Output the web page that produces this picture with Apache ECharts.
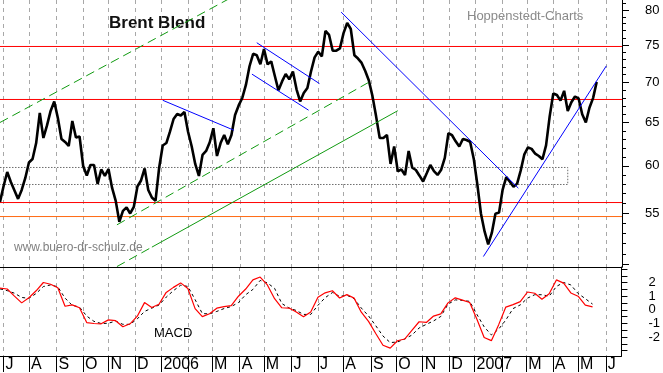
<!DOCTYPE html>
<html><head><meta charset="utf-8">
<script src="https://cdn.jsdelivr.net/npm/echarts@6/dist/echarts.min.js"></script>
<style>html,body{margin:0;padding:0;background:#fff}#c{width:663px;height:373px}</style>
</head><body><div id="c"></div>
<script>
// ---- data ----
const firstDay = '2005-06-28';
const lastDay = '2007-06-20';
// Brent close, one value every 3rd trading day starting at firstDay
const closeStep = 3;
const closes = [
56.13,57.81,59.32,58.24,57.34,56.45,57.39,58.67,60.37,60.76,
62.58,66.15,63.17,64.65,66.40,67.57,65.54,63.05,62.70,62.24,
65.18,63.23,63.34,59.98,58.94,60.09,60.09,58.03,59.60,58.89,
59.65,57.60,56.24,54.12,55.21,55.57,54.95,55.62,57.76,58.40,
59.71,57.39,56.59,56.24,59.76,62.30,62.58,63.91,65.42,66.03,
65.84,66.28,63.90,62.21,60.18,58.89,61.22,61.67,62.67,64.31,
61.10,62.58,63.52,62.44,63.52,65.91,67.08,68.01,69.66,72.11,
73.79,73.59,72.37,74.45,72.36,72.76,70.82,68.97,70.12,71.09,
70.38,71.40,69.11,67.57,68.64,69.28,71.41,73.30,74.06,73.43,
76.96,76.40,74.21,74.21,74.53,76.66,78.11,77.24,73.59,73.14,
72.55,71.48,70.24,68.24,65.74,63.17,63.17,63.52,60.21,62.18,
59.39,59.60,59.00,61.67,59.79,59.54,58.92,58.29,59.18,60.09,
59.41,59.00,59.58,60.89,63.72,63.49,62.78,62.18,63.05,62.93,
62.73,60.80,57.97,54.92,53.16,51.90,53.01,54.93,55.04,57.43,
58.76,58.26,57.72,58.06,59.50,61.29,62.07,61.91,61.36,61.10,
60.73,62.31,65.74,68.58,68.39,67.67,68.91,66.40,67.47,68.19,
67.95,65.99,65.00,66.79,67.99,70.04
];
// MACD and signal, one value every 6th trading day starting at firstDay
const macdStep = 6;
const macd = [
1.59,1.53,1.01,0.51,0.89,1.40,2.01,1.88,1.62,0.26,
0.36,0.15,-0.94,-1.01,-1.03,-0.74,-0.80,-1.25,-1.03,-0.47,
0.53,0.17,0.41,1.28,1.65,1.98,1.57,0.09,-0.50,-0.29,
0.12,0.24,0.31,1.00,1.53,2.20,2.41,1.83,0.82,0.15,
0.13,-0.16,-0.51,-0.16,0.93,1.25,1.40,0.87,1.12,0.86,
-0.18,-0.85,-1.74,-2.61,-2.82,-2.28,-2.15,-1.51,-0.88,-0.93,
-0.46,-0.30,0.51,0.88,0.71,0.54,-0.70,-2.04,-2.27,-1.11,
0.20,0.38,0.60,1.31,1.22,0.78,1.18,2.20,1.96,1.24,
1.00,0.35,0.22
];
const signal = [
1.54,1.41,1.22,0.91,0.84,1.20,1.71,1.83,1.69,0.86,
0.33,0.20,-0.46,-0.85,-1.01,-0.99,-0.83,-1.07,-1.07,-0.67,
-0.12,0.12,0.35,0.93,1.41,1.81,1.72,0.75,-0.28,-0.30,
-0.12,0.09,0.24,0.53,1.11,1.50,2.16,1.98,1.58,0.46,
0.13,-0.05,-0.34,-0.34,0.33,0.89,1.27,0.99,1.07,0.82,
0.13,-0.45,-1.17,-1.93,-2.41,-2.37,-2.15,-1.86,-1.34,-1.07,
-0.82,-0.49,0.41,0.73,0.69,0.62,-0.34,-1.25,-1.85,-1.43,
-0.75,0.09,0.36,0.86,1.11,1.11,1.00,1.72,2.01,1.83,
1.20,0.82,0.42
];
const redLevels = [74.79, 67.82, 56.07];
const orangeLevel = 54.64;
const boxTop = 59.82, boxBottom = 57.97, boxEnd = '2007-04-18';
const greenUpper = [['2005-06-28',65.00],['2006-04-03',82.56]];
const greenMiddle = [['2005-11-10',53.81],['2006-09-01',70.19]];
const greenLowerDashed = [['2005-11-10',49.82],['2005-12-21',51.64]];
const greenLower = [['2005-12-21',51.64],['2006-10-03',66.43]];
const blueLines = [
  [['2006-01-03',67.72],['2006-03-27',64.08]],
  [['2006-04-21',75.31],['2006-07-04',69.84]],
  [['2006-04-17',71.07],['2006-06-21',66.49]],
  [['2006-07-28',79.69],['2007-02-20',57.58]],
  [['2007-01-10',50.75],['2007-06-01',72.16]]
];
const priceLabels = [55,60,65,70,75,80];
const priceMajorTicks = [50,55,60,65,70,75,80];
const priceMinorTicks = [50,51,52,53,54,55,56,57,58,59,60,61,62,63,64,65,66,67,68,69,70,71,72,73,74,75,76,77,78,79,80,81];
const macdLabels = [2,1,0,-1,-2];
const macdTicks = [-3,-2.5,-2,-1.5,-1,-0.5,0,0.5,1,1.5,2,2.5,3];
const monthLetters = ['', '', 'M','A','M','J','J','A','S','O','N','D'];
const priceMin = 49.78, priceMax = 81.49;
const macdMin = -3.4, macdMax = 3.15;

// ---- build ----
const cats = [];
for (let d = new Date(firstDay + 'T00:00:00Z'); d <= new Date(lastDay + 'T00:00:00Z'); d.setUTCDate(d.getUTCDate() + 1)) {
  const w = d.getUTCDay();
  if (w === 0 || w === 6) continue;
  cats.push(d.toISOString().slice(0, 10));
}
const L = Math.log;
const ci = s => cats.indexOf(s);
const seg = pts => pts.map(p => [ci(p[0]), L(p[1])]);
const monthStart = i => i > 0 && cats[i].slice(5, 7) !== cats[i - 1].slice(5, 7);
const FONT = '"Liberation Sans", Arial, sans-serif';
const vGrid = {show: true, interval: monthStart, lineStyle: {color: '#a8a8a8', type: [4, 4], width: 1}};
const lineS = (data, color, type, width, z) => ({
  type: 'line', xAxisIndex: 0, yAxisIndex: 0, data, symbol: 'none', silent: true,
  lineStyle: {color, type: type || 'solid', width: width || 1}, z: z || 2, animation: false
});
const last = cats.length - 1;
const series = [];
redLevels.forEach(v => series.push(lineS([[0, L(v)], [last, L(v)]], '#ff0000', 'solid', 1, 1)));
series.push(lineS([[0, L(orangeLevel)], [last, L(orangeLevel)]], '#ff6a13', 'solid', 1, 1));
series.push(lineS([[0, L(boxTop)], [ci(boxEnd), L(boxTop)], [ci(boxEnd), L(boxBottom)], [0, L(boxBottom)]], '#6e6e6e', [1.5, 1.5], 1, 1));
series.push({type: 'line', xAxisIndex: 0, yAxisIndex: 0, symbol: 'none', silent: true, z: 3,
  data: closes.map((p, k) => [k * closeStep, L(p)]), lineStyle: {color: '#000', width: 2.6}});
series.push(lineS(seg(greenUpper), '#109a10', [9, 5], 1, 4));
series.push(lineS(seg(greenMiddle), '#109a10', [9, 5], 1, 4));
series.push(lineS(seg(greenLowerDashed), '#109a10', [9, 5], 1, 4));
series.push(lineS(seg(greenLower), '#109a10', 'solid', 1, 4));
blueLines.forEach(b => series.push(lineS(seg(b), '#0000ff', 'solid', 1, 4)));
series.push({type: 'line', xAxisIndex: 1, yAxisIndex: 2, symbol: 'none', silent: true, z: 3,
  data: signal.map((v, j) => [j * macdStep, v]), lineStyle: {color: '#000', width: 1, type: [3, 3]}});
series.push({type: 'line', xAxisIndex: 1, yAxisIndex: 2, symbol: 'none', silent: true, z: 4,
  data: macd.map((v, j) => [j * macdStep, v]), lineStyle: {color: '#ff0000', width: 1.2}});

const option = {
  animation: false,
  grid: [{left: 0, right: 41, top: 0, height: 267}, {left: 0, right: 41, top: 267, height: 90}],
  xAxis: [
    {type: 'category', gridIndex: 0, data: cats, boundaryGap: false,
     axisLine: {show: true, onZero: false, lineStyle: {color: '#000', width: 1}}, axisTick: {show: false}, axisLabel: {show: false}, splitLine: vGrid},
    {type: 'category', gridIndex: 1, data: cats, boundaryGap: false,
     axisLine: {show: true, onZero: false, lineStyle: {color: '#000', width: 1}},
     axisTick: {show: true, interval: monthStart, length: 16, lineStyle: {color: '#000'}},
     axisLabel: {show: true, interval: monthStart, align: 'left', verticalAlign: 'top', margin: 1, padding: [0, 0, 0, 2],
       fontSize: 16, fontFamily: '"Liberation Sans Narrow", ' + FONT, color: '#000',
       formatter: v => { const m = +v.slice(5, 7); return m === 1 ? v.slice(0, 4) : monthLetters[m - 1]; }},
     splitLine: vGrid}
  ],
  yAxis: [
    {type: 'value', gridIndex: 0, position: 'right', min: L(priceMin), max: L(priceMax),
     axisLine: {show: true, lineStyle: {color: '#000'}},
     axisTick: {show: true, customValues: priceMajorTicks.map(L), length: 7, lineStyle: {color: '#000'}},
     axisLabel: {show: true, customValues: priceLabels.map(L), formatter: v => String(Math.round(Math.exp(v))),
       margin: 23, fontSize: 13, fontFamily: FONT, color: '#000'},
     splitLine: {show: false}},
    {type: 'value', gridIndex: 0, position: 'right', min: L(priceMin), max: L(priceMax),
     axisLine: {show: false},
     axisTick: {show: true, customValues: priceMinorTicks.map(L), length: 4, lineStyle: {color: '#000'}},
     axisLabel: {show: false}, splitLine: {show: false}},
    {type: 'value', gridIndex: 1, position: 'right', min: macdMin, max: macdMax,
     axisLine: {show: true, lineStyle: {color: '#000'}},
     axisTick: {show: true, customValues: macdTicks, length: 6, lineStyle: {color: '#000'}},
     axisLabel: {show: true, customValues: macdLabels, margin: 27, fontSize: 13, fontFamily: FONT, color: '#000'},
     splitLine: {show: false}}
  ],
  series,
  graphic: [
    {type: 'text', left: 109, top: 15, silent: true, style: {text: 'Brent Blend', font: 'bold 17px ' + FONT, fill: '#111'}},
    {type: 'text', left: 467, top: 10, silent: true, style: {text: 'Hoppenstedt-Charts', font: '13px ' + FONT, fill: '#8a8a8a'}},
    {type: 'text', left: 14, top: 242, silent: true, style: {text: 'www.buero-dr-schulz.de', font: '12px ' + FONT, fill: '#808080'}},
    {type: 'text', left: 154, top: 327, silent: true, style: {text: 'MACD', font: '13px ' + FONT, fill: '#000'}}
  ]
};
const chart = echarts.init(document.getElementById('c'), null, {renderer: 'canvas'});
chart.setOption(option);
</script></body></html>
